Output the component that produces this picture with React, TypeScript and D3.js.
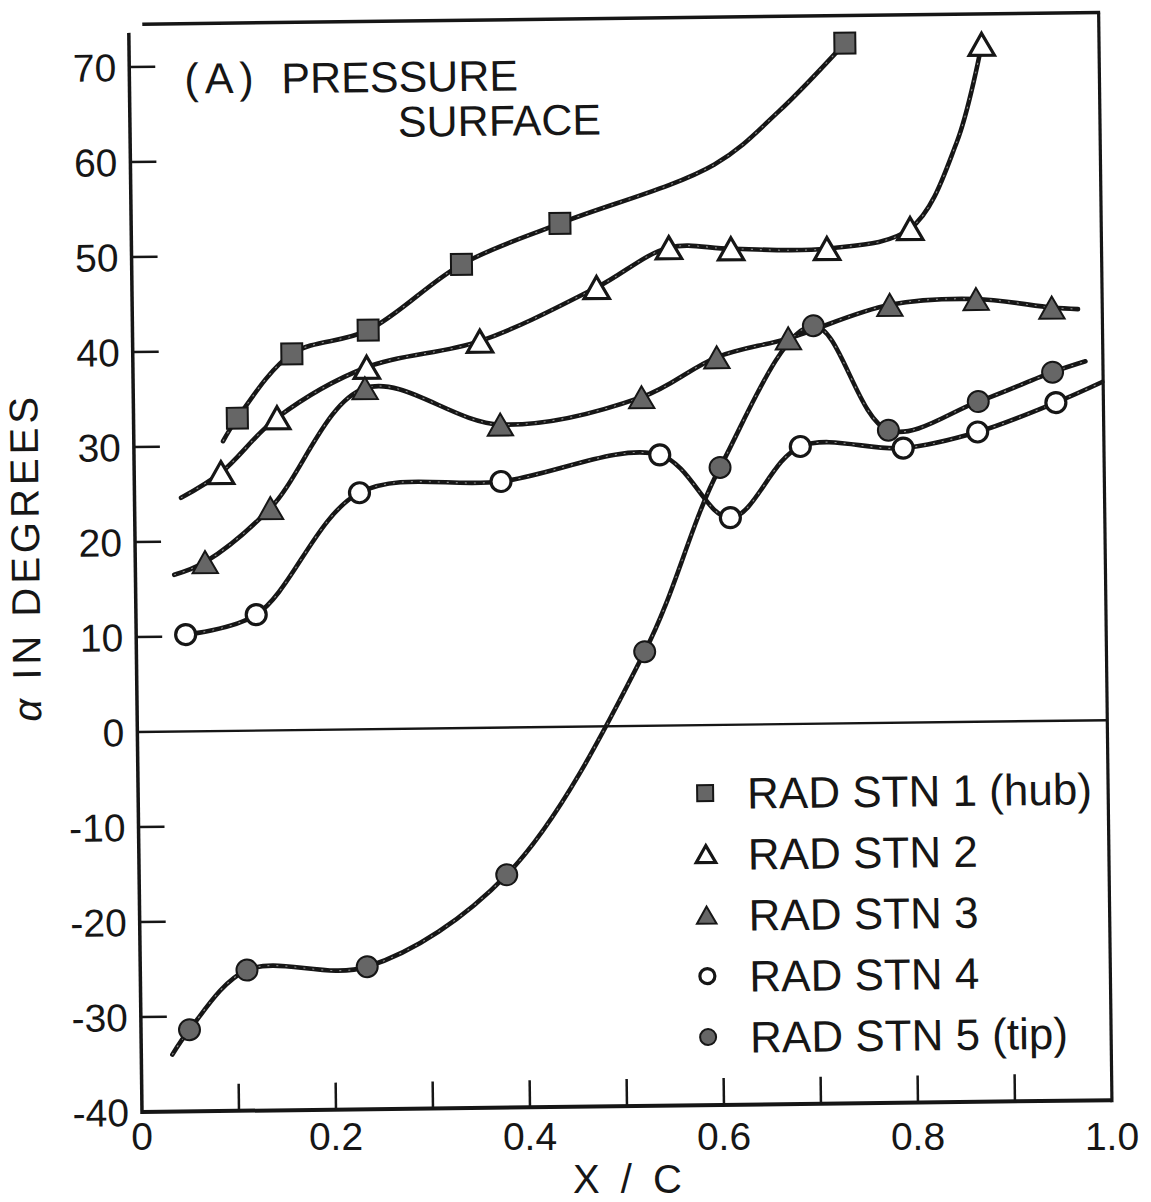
import React from "react";
import * as d3 from "d3";

type Pt = [number, number];

// ---- data ----
const xTickValues = [0.1, 0.2, 0.3, 0.4, 0.5, 0.6, 0.7, 0.8, 0.9];
const xLabelValues = [0, 0.2, 0.4, 0.6, 0.8, 1.0];
const xLabelTexts = ["0", "0.2", "0.4", "0.6", "0.8", "1.0"];
const yTickValues = [-30, -20, -10, 10, 20, 30, 40, 50, 60, 70];
const yLabelValues = [-40, -30, -20, -10, 0, 10, 20, 30, 40, 50, 60, 70];

const seriesNames = [
  "RAD STN 1 (hub)",
  "RAD STN 2",
  "RAD STN 3",
  "RAD STN 4",
  "RAD STN 5 (tip)",
];

const stn1Markers: Pt[] = [[0.107, 32.9], [0.164, 39.6], [0.243, 42.0], [0.340, 48.8], [0.442, 53.0], [0.738, 71.6]];
const stn1Trace: Pt[] = [[0.092, 30.5], [0.602, 59.0], [0.669, 64.5]];

const stn2Markers: Pt[] = [[0.0895, 27.2], [0.148, 32.9], [0.241, 38.1], [0.358, 40.7], [0.479, 46.2], [0.554, 50.3], [0.618, 50.1], [0.717, 50.0], [0.803, 52.0], [0.879, 71.3]];
const stn2Trace: Pt[] = [[0.048, 24.6], [0.852, 61.0]];

const stn3Markers: Pt[] = [[0.072, 17.8], [0.140, 23.4], [0.239, 35.9], [0.378, 31.9], [0.524, 34.6], [0.602, 38.7], [0.676, 40.6], [0.781, 44.0], [0.870, 44.5], [0.948, 43.5]];
const stn3Trace: Pt[] = [[0.040, 16.5], [0.975, 43.3]];

const stn4Markers: Pt[] = [[0.051, 10.2], [0.124, 12.2], [0.232, 24.9], [0.378, 25.9], [0.542, 28.5], [0.614, 21.8], [0.687, 29.2], [0.793, 28.9], [0.870, 30.5], [0.951, 33.5]];
const stn4Trace: Pt[] = [[0.999, 35.6]];

const stn5Markers: Pt[] = [[0.050, -31.4], [0.110, -25.2], [0.234, -25.0], [0.379, -15.5], [0.524, 7.8], [0.604, 27.1], [0.702, 41.9], [0.778, 30.8], [0.871, 33.7], [0.948, 36.7]];
const stn5Trace: Pt[] = [[0.032, -34.0], [0.982, 37.8]];

const markerKinds = ["square", "openTri", "fillTri", "openCircle", "fillCircle"];
const allMarkers = [stn1Markers, stn2Markers, stn3Markers, stn4Markers, stn5Markers];
const allTraces = [stn1Trace, stn2Trace, stn3Trace, stn4Trace, stn5Trace];

// ---- layout ----
const W = 1151;
const H = 1202;
const FONT = "'Liberation Sans', Arial, Helvetica, sans-serif";
const INK = "#161616";
const GREY = "#666666";

const xScale = d3.scaleLinear().domain([0, 1]).range([142, 1112]);
const yScale = d3.scaleLinear().domain([-40, 70]).range([1112, 67]);

function Marker({ kind, cx, cy, s }: { kind: string; cx: number; cy: number; s: number }) {
  if (kind === "square") {
    return <rect x={cx - s / 2} y={cy - s / 2} width={s} height={s} fill={GREY} stroke={INK} strokeWidth={2} />;
  }
  if (kind === "openTri" || kind === "fillTri") {
    const w = s * 1.15;
    const h = s;
    const p = `${cx},${cy - h / 2} ${cx + w / 2},${cy + h / 2} ${cx - w / 2},${cy + h / 2}`;
    return (
      <polygon
        points={p}
        fill={kind === "openTri" ? "#fff" : GREY}
        stroke={INK}
        strokeWidth={kind === "openTri" ? 3.2 : 2}
        strokeLinejoin="miter"
      />
    );
  }
  if (kind === "openCircle") {
    return <circle cx={cx} cy={cy} r={s / 2 - 0.5} fill="#fff" stroke={INK} strokeWidth={3.2} />;
  }
  return <circle cx={cx} cy={cy} r={s / 2} fill={GREY} stroke={INK} strokeWidth={2} />;
}

export default function App() {
  const line = d3
    .line<Pt>()
    .x((d) => xScale(d[0]))
    .y((d) => yScale(d[1]))
    .curve(d3.curveCatmullRom.alpha(0.5));

  const paths = allMarkers.map((m, i) => {
    const pts = [...m, ...allTraces[i]].sort((a, b) => a[0] - b[0]);
    return line(pts) || "";
  });

  const yTopAxis = yScale(73.6);
  const yTopBorder = yScale(74.5);
  const legendY0 = 800;
  const legendStep = 61;

  return (
    <svg
      width={W}
      height={H}
      viewBox={`0 0 ${W} ${H}`}
      style={{ position: "absolute", left: 0, top: 0, background: "#fff" }}
      fontFamily={FONT}
    >
      <rect x={0} y={0} width={W} height={H} fill="#fff" />
      <g transform="rotate(-0.7 142 1112)">
        {/* frame */}
        <line x1={xScale(0)} x2={xScale(0)} y1={yTopAxis} y2={yScale(-40) + 2} stroke={INK} strokeWidth={3.5} />
        <line x1={xScale(0)} x2={xScale(1)} y1={yScale(-40)} y2={yScale(-40)} stroke={INK} strokeWidth={4} />
        <line x1={xScale(0.014)} x2={xScale(1) + 1.5} y1={yTopBorder} y2={yTopBorder} stroke={INK} strokeWidth={3.5} />
        <line x1={xScale(1)} x2={xScale(1)} y1={yTopBorder} y2={yScale(-40) + 2} stroke={INK} strokeWidth={3.2} />
        <line x1={xScale(0)} x2={xScale(1)} y1={yScale(0)} y2={yScale(0)} stroke={INK} strokeWidth={2.4} />

        {/* ticks */}
        {yTickValues.map((v) => (
          <line key={`yt${v}`} x1={xScale(0)} x2={xScale(0) + 26} y1={yScale(v)} y2={yScale(v)} stroke={INK} strokeWidth={2.5} />
        ))}
        {xTickValues.map((v) => (
          <line key={`xt${v}`} x1={xScale(v)} x2={xScale(v)} y1={yScale(-40)} y2={yScale(-40) - 27} stroke={INK} strokeWidth={2.5} />
        ))}

        {/* y labels */}
        {yLabelValues.map((v) => (
          <text key={`yl${v}`} x={129} y={yScale(v)} dy="0.36em" textAnchor="end" fontSize={39} fill={INK}>
            {v}
          </text>
        ))}

        {/* y title */}
        <text
          transform={`translate(46, 556) rotate(-90)`}
          textAnchor="middle"
          fontSize={40}
          letterSpacing={4}
          fill={INK}
        >
          <tspan fontStyle="italic">α</tspan> IN DEGREES
        </text>

        {/* panel title */}
        <text x={197} y={94} fontSize={43} letterSpacing={6} fill={INK}>
          (A)
        </text>
        <text x={294} y={95} fontSize={43} fill={INK}>
          PRESSURE
        </text>
        <text x={410} y={140} fontSize={43} fill={INK}>
          SURFACE
        </text>

        {/* series lines */}
        {paths.map((p, i) => (
          <g key={`ln${i}`}>
            <path d={p} fill="none" stroke={INK} strokeWidth={4.6} strokeLinecap="round" />
            <path d={p} fill="none" stroke="#bdbdbd" strokeWidth={1.1} strokeDasharray="2 7" opacity={0.7} />
          </g>
        ))}

        {/* markers */}
        {allMarkers.map((m, i) =>
          m.map((d, j) => (
            <Marker key={`mk${i}-${j}`} kind={markerKinds[i]} cx={xScale(d[0])} cy={yScale(d[1])} s={i === 1 || i === 2 ? 22 : 21} />
          ))
        )}

        {/* legend */}
        {seriesNames.map((name, i) => (
          <g key={`lg${i}`}>
            <Marker kind={markerKinds[i]} cx={709} cy={legendY0 + i * legendStep} s={i === 1 || i === 2 ? 17 : 16} />
            <text x={751} y={legendY0 + i * legendStep + 16} fontSize={44} fill={INK} style={{ whiteSpace: "pre" }}>
              {name}
            </text>
          </g>
        ))}
      </g>

      {/* x labels */}
      {xLabelValues.map((v, i) => (
        <text key={`xl${v}`} x={xScale(v)} y={1150} textAnchor="middle" fontSize={39} fill={INK}>
          {xLabelTexts[i]}
        </text>
      ))}
      <text x={630} y={1193} textAnchor="middle" fontSize={40} letterSpacing={5} fill={INK}>
        X / C
      </text>
    </svg>
  );
}
